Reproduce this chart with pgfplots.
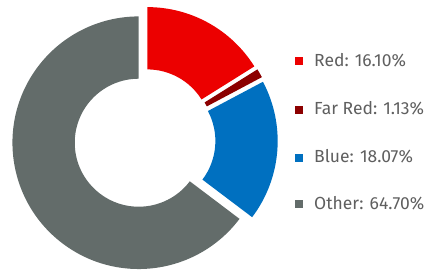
\documentclass[border=0pt]{standalone}
\usepackage{pgfplots}
\pgfplotsset{compat=1.18}
\usepackage{fontspec}
\setmainfont[Numbers=Proportional]{Fira Sans}
\definecolor{cRed}{RGB}{236,0,0}
\definecolor{cFar}{RGB}{140,0,0}
\definecolor{cBlue}{RGB}{0,112,192}
\definecolor{cOther}{RGB}{99,108,106}
\definecolor{cText}{RGB}{95,95,95}
\newcommand{\cx}{143.4}
\newcommand{\cy}{129.6}
% #1 start percent, #2 end percent, #3 explode offset, #4 colour
\newcommand{\slice}[4]{%
 \fill[#4]
  ([shift={({90-(#1+#2)*1.8}:#3pt)},shift={({90-#1*3.6}:126.3pt)}]axis cs:\cx,\cy)
  arc[start angle={90-#1*3.6}, end angle={90-#2*3.6}, radius=126.3pt]
  -- ([shift={({90-(#1+#2)*1.8}:#3pt)},shift={({90-#2*3.6}:64pt)}]axis cs:\cx,\cy)
  arc[start angle={90-#2*3.6}, end angle={90-#1*3.6}, radius=64pt]
  -- cycle;}
\newcommand{\lab}[2]{\node[anchor=base west, inner sep=0pt, font=\fontsize{17.5}{20}\selectfont, text=cText] at (axis cs:314,#1) {#2};}
\begin{document}
\begin{tikzpicture}
\begin{axis}[x=1pt,y=1pt,xmin=0,xmax=438,ymin=0,ymax=270,hide axis,scale only axis,clip=false]
\coordinate (LL) at (axis cs:0,0);
\coordinate (UR) at (axis cs:438,270);
% Red 16.10, Far Red 1.13, Blue 18.07, Other 64.70
\slice{0}{16.10}{8}{cRed}
\slice{16.10}{17.23}{8}{cFar}
\slice{17.23}{35.30}{8}{cBlue}
\slice{35.30}{100}{5.2}{cOther}
\fill[cRed] (axis cs:295,205) rectangle (axis cs:302.7,212.7);
\fill[cFar] (axis cs:295,156.3) rectangle (axis cs:302.7,164);
\fill[cBlue] (axis cs:295,108.3) rectangle (axis cs:302.7,116);
\fill[cOther] (axis cs:295,62.3) rectangle (axis cs:302.7,70);
\lab{203.3}{Red: 16.10\%}
\lab{155.8}{Far Red: 1.13\%}
\lab{107.8}{Blue: 18.07\%}
\lab{60.7}{Other: 64.70\%}
\end{axis}
\pgfresetboundingbox
\useasboundingbox (LL) rectangle (UR);
\end{tikzpicture}
\end{document}
